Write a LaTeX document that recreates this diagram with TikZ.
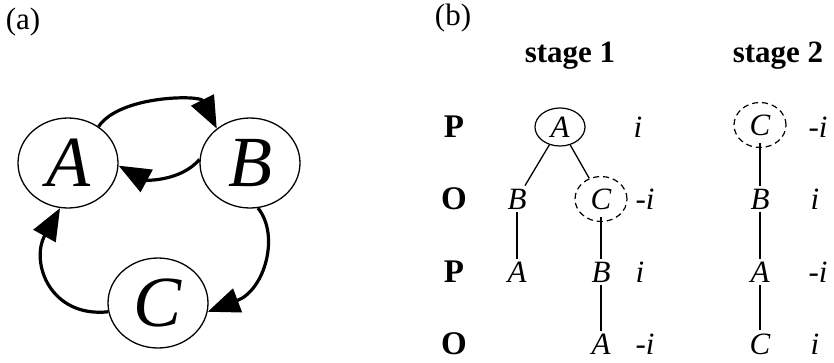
\documentclass[tikz,border=0pt]{standalone}
\usepackage{fontspec}
\setmainfont{Liberation Serif}
\usetikzlibrary{arrows.meta,shapes.geometric}
\begin{document}
\begin{tikzpicture}[x=1pt,y=-1pt,
  panel/.style={font=\fontsize{31}{33}\selectfont},
  head/.style={font=\fontsize{31}{33}\selectfont\bfseries},
  role/.style={font=\fontsize{33}{35}\selectfont\bfseries},
  big/.style={ellipse,draw,line width=1.3pt,minimum width=100pt,minimum height=90pt,
    inner sep=0pt,font=\fontsize{72}{76}\selectfont\itshape},
  flow/.style={line width=3.2pt,-{Triangle[length=32pt,width=25pt]}},
  argnode/.style={font=\fontsize{31}{33}\selectfont\itshape,inner sep=3pt},
  solidring/.style={argnode,ellipse,draw,line width=1.2pt,minimum width=50pt,minimum height=38pt,inner sep=0pt},
  dashring/.style={argnode,ellipse,draw,line width=1.2pt,dash pattern=on 6pt off 4pt,
    minimum width=52pt,minimum height=45pt,inner sep=0pt},
  val/.style={font=\fontsize{31}{33}\selectfont\itshape},
  edge/.style={line width=1.3pt}]
\useasboundingbox (0,0) rectangle (834,362);

% ---------- (a) cyclic attack graph ----------
\node[panel] (la) at (23,22) {(a)};
\node[big] (A) at (68,163) {A};
\node[big] (B) at (250,163) {B};
\node[big] (C) at (158,303) {C};

\draw[flow] (A.50) .. controls (120,95) and (200,95) .. (B.134);
\draw[flow] (B.176) .. controls (180,182) and (145,180) .. (A.-3);
\draw[flow] (B.-80) .. controls (280,235) and (265,290) .. (C.-10);
\draw[flow] (C.190) .. controls (50,318) and (30,262) .. (A.-100);

% ---------- (b) dialogue trees ----------
\node[panel] (lb) at (453,18) {(b)};
\node[head] (s1) at (570,56) {stage 1};
\node[head] (s2) at (778,56) {stage 2};

\node[role] (r1) at (454,127) {P};
\node[role] (r2) at (454,199) {O};
\node[role] (r3) at (454,272) {P};
\node[role] (r4) at (454,344) {O};

% stage 1
\node[solidring] (a1) at (560,127) {A};
\node[val] (v11) at (638,127) {i};
\node[argnode] (b1) at (517,199) {B};
\node[dashring] (c1) at (601,199) {C};
\node[val] (v12) at (645,199) {-i};
\node[argnode] (a2) at (517,272) {A};
\node[argnode] (b2) at (601,272) {B};
\node[val] (v13) at (640,272) {i};
\node[argnode] (a3) at (601,344) {A};
\node[val] (v14) at (645,344) {-i};

\draw[edge] (a1) -- (b1);
\draw[edge] (a1) -- (c1);
\draw[edge] (b1) -- (a2);
\draw[edge] ([yshift=5pt]c1.south) -- (b2);
\draw[edge] (b2) -- (a3);

% stage 2
\node[dashring] (c2) at (760,125) {C};
\node[val] (v21) at (818,127) {-i};
\node[argnode] (b3) at (760,199) {B};
\node[val] (v22) at (815,199) {i};
\node[argnode] (a4) at (760,272) {A};
\node[val] (v23) at (818,272) {-i};
\node[argnode] (c3) at (760,344) {C};
\node[val] (v24) at (815,344) {i};

\draw[edge] ([yshift=5pt]c2.south) -- (b3);
\draw[edge] (b3) -- (a4);
\draw[edge] (a4) -- (c3);
\end{tikzpicture}
\end{document}
